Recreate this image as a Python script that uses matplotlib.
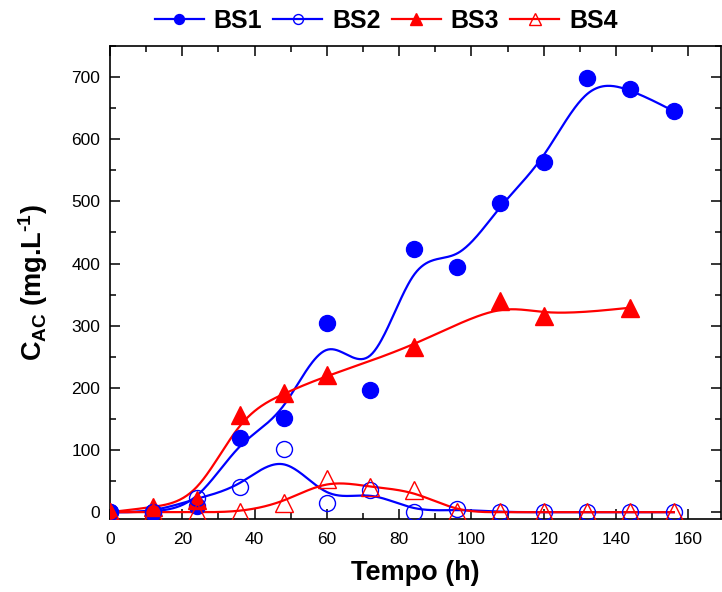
import numpy as np
import matplotlib
matplotlib.use('Agg')
from matplotlib import pyplot as plt
from matplotlib.ticker import MultipleLocator

plt.rcParams['font.family'] = ['Liberation Sans', 'DejaVu Sans']
plt.rcParams['mathtext.fontset'] = 'custom'
plt.rcParams['mathtext.rm'] = 'Liberation Sans'
plt.rcParams['mathtext.bf'] = 'Liberation Sans:bold'

# data
t_bs1 = [0, 12, 24, 36, 48, 60, 72, 84, 96, 108, 120, 132, 144, 156]
bs1 = [0, 0, 10, 119, 151, 305, 196, 424, 394, 497, 563, 698, 681, 645]

t_bs2 = [0, 12, 24, 36, 48, 60, 72, 84, 96, 108, 120, 132, 144, 156]
bs2 = [0, 0, 22, 40, 102, 14, 36, 0, 5, 0, 0, 0, 0, 0]

t_bs3 = [0, 12, 24, 36, 48, 60, 84, 108, 120, 144]
bs3 = [0, 8, 20, 156, 191, 220, 266, 339, 315, 329]

t_bs4 = [0, 12, 24, 36, 48, 60, 72, 84, 96, 108, 120, 132, 144, 156]
bs4 = [0, 0, 0, 0, 15, 53, 40, 35, 0, 0, 0, 0, 0, 0]


def bspline(x, y, n=40):
    # clamped uniform cubic B-spline, data used as control points
    px = np.concatenate([[x[0]] * 2, x, [x[-1]] * 2]).astype(float)
    py = np.concatenate([[y[0]] * 2, y, [y[-1]] * 2]).astype(float)
    u = np.linspace(0, 1, n)
    b0 = (1 - u) ** 3 / 6
    b1 = (3 * u ** 3 - 6 * u ** 2 + 4) / 6
    b2 = (-3 * u ** 3 + 3 * u ** 2 + 3 * u + 1) / 6
    b3 = u ** 3 / 6
    xs, ys = [], []
    for i in range(len(px) - 3):
        xs.append(b0 * px[i] + b1 * px[i + 1] + b2 * px[i + 2] + b3 * px[i + 3])
        ys.append(b0 * py[i] + b1 * py[i + 1] + b2 * py[i + 2] + b3 * py[i + 3])
    return np.concatenate(xs), np.concatenate(ys)


fig = plt.figure(figsize=(7.22, 5.92), dpi=100)
ax = fig.add_axes([0.1524, 0.1233, 0.846, 0.799])

series = [
    (t_bs1, bs1, 'BS1', 'blue', 'o', 'blue', 11.5),
    (t_bs2, bs2, 'BS2', 'blue', 'o', 'none', 11.5),
    (t_bs3, bs3, 'BS3', 'red', '^', 'red', 13),
    (t_bs4, bs4, 'BS4', 'red', '^', 'none', 13),
]

handles = []
for t, v, name, col, mk, fc, ms in series:
    sx, sy = bspline(t, v)
    ax.plot(sx, sy, color=col, lw=1.6, zorder=2)
    ax.plot(t, v, linestyle='none', marker=mk, ms=ms, mfc=fc, mec=col,
            mew=1.0, zorder=3 if fc != 'none' else 4)
    h, = ax.plot([], [], color=col, lw=1.6, marker=mk, ms=ms * 0.62, mfc=fc, mec=col, mew=1.0)
    h.set_label(name)
    handles.append(h)

ax.set_xlim(0, 169)
ax.set_ylim(-11, 750)
ax.xaxis.set_major_locator(MultipleLocator(20))
ax.xaxis.set_minor_locator(MultipleLocator(10))
ax.yaxis.set_major_locator(MultipleLocator(100))
ax.yaxis.set_minor_locator(MultipleLocator(50))
ax.tick_params(which='both', direction='in', top=True, right=True, labelsize=12.5, width=1.1)
ax.tick_params(which='major', length=7)
ax.tick_params(which='minor', length=4)
ax.tick_params(axis='x', pad=9)
ax.tick_params(axis='y', pad=7)
for s in ax.spines.values():
    s.set_linewidth(1.2)

ax.set_xlabel('Tempo (h)', fontsize=19.5, fontweight='bold', labelpad=10)
ax.set_ylabel(r'$\mathbf{C_{AC}}$ (mg.L$^{\mathbf{‐1}}$)', fontsize=19.5, fontweight='bold', labelpad=15)

fig.legend(handles=handles, loc='center', bbox_to_anchor=(0.535, 0.965), ncol=4,
           frameon=False, prop={'weight': 'bold', 'size': 18}, handlelength=1.95,
           handletextpad=0.4, columnspacing=0.45, borderpad=0.1)

fig.savefig('out.png', dpi=100)
